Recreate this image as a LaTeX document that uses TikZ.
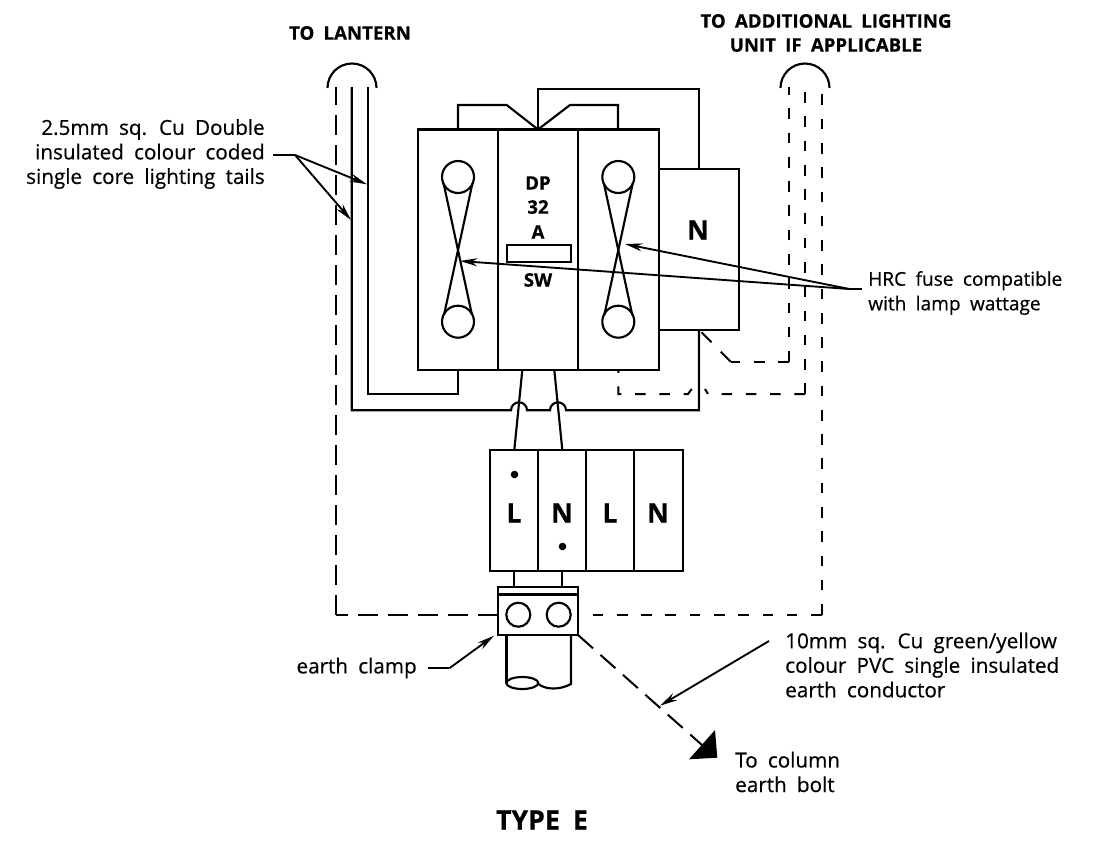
\documentclass[tikz,border=0pt]{standalone}
\usepackage{fontspec}
\setmainfont[WordSpace=1.9, RawFeature={embolden=0.5}]{Open Sans}
\usepackage{tikz}
\usetikzlibrary{arrows.meta}

\tikzset{
  wire/.style={line width=1.6pt, black},
  tail/.style={line width=1.5pt, black, dash pattern=on 15pt off 7.5pt},
  spare/.style={line width=1.5pt, black, dash pattern=on 8pt off 10.2pt},
  leader/.style={line width=1.4pt, black, -{Stealth[length=13pt, width=6pt]}},
  lbl/.style={font=\fontsize{15.5}{18.4}\selectfont, inner sep=0pt},
  head/.style={font=\fontsize{14}{18}\selectfont\bfseries, inner sep=0pt, align=center},
  big/.style={font=\fontsize{20}{24}\selectfont\bfseries, inner sep=0pt}
}

\begin{document}
\begin{tikzpicture}[x=0.75pt, y=-0.75pt]
\useasboundingbox (0, 0) rectangle (1097, 843);

% lanterns
\draw[wire] (327.5, 88) arc[start angle=180, end angle=360, radius=24.5];
\draw[wire] (780.5, 88) arc[start angle=180, end angle=360, radius=24.5];

% breaker
\draw[wire] (418, 129.5) -- (659, 129.5) -- (659, 370) -- (418, 370) -- cycle;
\draw[wire] (498, 129.5) -- (498, 370);
\draw[wire] (578, 129.5) -- (578, 370);
\draw[wire] (506.7, 245) -- (571, 245) -- (571, 261.7) -- (506.7, 261.7) -- cycle;
\draw[wire] (458, 129.5) -- (458, 105) -- (506.7, 105) -- (538, 129.5);
\draw[wire] (618, 129.5) -- (618, 105) -- (570, 105) -- (538, 129.5);
\draw[wire] (538, 129.5) -- (538, 89.3) -- (699, 89.3) -- (699, 169);

% N block
\draw[wire] (659, 169) -- (739, 169) -- (739, 330) -- (659, 330);

% fuses
\draw[wire] (458, 177) circle[radius=16];
\draw[wire] (458, 321.7) circle[radius=16];
\draw[wire] (443.5, 183) -- (472, 315);
\draw[wire] (472.5, 183) -- (444, 315);
\draw[wire] (618.3, 177) circle[radius=16];
\draw[wire] (618.3, 321.7) circle[radius=16];
\draw[wire] (603.8, 183) -- (632.3, 315);
\draw[wire] (632.8, 183) -- (604.3, 315);

% lighting tails
\draw[wire] (351.7, 87) -- (351.7, 410.3) -- (511, 410.3) arc[start angle=180, end angle=360, radius=8] -- (550, 410.3) arc[start angle=180, end angle=360, radius=8] -- (699, 410.3) -- (699, 330);
\draw[wire] (367.7, 87) -- (367.7, 394) -- (458, 394) -- (458, 370);

% feed to terminals
\draw[wire] (522.3, 370) -- (514.3, 450);
\draw[wire] (554.3, 370) -- (562.3, 450);

% terminals
\draw[wire] (490, 450) -- (682.7, 450) -- (682.7, 570.7) -- (490, 570.7) -- cycle;
\draw[wire] (538.3, 450) -- (538.3, 570.7);
\draw[wire] (586, 450) -- (586, 570.7);
\draw[wire] (634, 450) -- (634, 570.7);
\fill[black] (514.5, 474.5) circle[radius=3.8];
\fill[black] (562.5, 546.5) circle[radius=3.8];
\draw[wire] (514.3, 570.7) -- (514.3, 586.7);
\draw[wire] (562.3, 570.7) -- (562.3, 586.7);

% clamp and column
\draw[wire] (498, 586.7) -- (578, 586.7) -- (578, 635) -- (498, 635) -- cycle;
\draw[wire] (498, 594.5) -- (578, 594.5);
\draw[wire] (518.3, 614.7) circle[radius=12];
\draw[wire] (558.7, 614.7) circle[radius=12];
\draw[wire] (506.5, 635) -- (506.5, 683);
\draw[wire] (571, 635) -- (571, 684) .. controls (560, 690) and (546, 690) .. (538.3, 684);
\draw[wire] (522.3, 683) ellipse[x radius=16, y radius=6];

% earth loop
\draw[tail] (498, 614.7) -- (335.7, 614.7);
\draw[tail] (335.7, 614.7) -- (335.7, 87);
\draw[spare] (821.7, 614.7) -- (578, 614.7);
\draw[spare] (821.7, 614.7) -- (821.7, 87);
\draw[tail] (578, 635) -- (702, 745);
\fill[black] (715, 730) -- (717.3, 757.7) -- (689, 759.3) -- cycle;

% spare tails
\draw[spare] (789, 361.7) -- (789, 87);
\draw[spare] (789, 361.7) -- (730.7, 361.7);
\draw[spare, dash pattern=on 10.5pt off 10pt] (730.7, 361.7) -- (699.3, 330);
\draw[spare] (805, 394) -- (805, 87);
\draw[spare] (805, 394) -- (708, 394) -- (705, 389);
\draw[spare] (691.7, 389) -- (688, 394) -- (618.3, 394) -- (618.3, 370);

% leaders
\coordinate (tailknee) at (295, 155);
\coordinate (tailend) at (273, 155);
\coordinate (tailtipa) at (367, 184.3);
\coordinate (tailtipb) at (351, 220);
\coordinate (fuseknee) at (849.3, 289);
\coordinate (fuseend) at (862, 289);
\coordinate (fusetipa) at (625, 244);
\coordinate (fusetipb) at (460, 261);
\coordinate (clampend) at (428, 668.3);
\coordinate (clampknee) at (449.3, 668.3);
\coordinate (clamptip) at (494, 635.7);
\coordinate (earthend) at (769, 641);
\coordinate (earthtip) at (660, 705.7);

\draw[line width=1.4pt] (tailend) -- (tailknee);
\draw[leader] (tailknee) -- (tailtipa);
\draw[leader] (tailknee) -- (tailtipb);
\draw[line width=1.4pt] (fuseend) -- (fuseknee);
\draw[leader] (fuseknee) -- (fusetipa);
\draw[leader] (fuseknee) -- (fusetipb);
\draw[line width=1.4pt] (clampend) -- (clampknee);
\draw[leader] (clampknee) -- (clamptip);
\draw[leader] (earthend) -- (earthtip);

% text
\draw (350, 33) node[head] (lanternlbl) {TO LANTERN};
\draw (826, 33) node[head] (extralbl) {TO ADDITIONAL LIGHTING\\UNIT IF APPLICABLE};
\draw (265, 154) node[lbl, left, align=right] (taillbl) {2.5mm sq. Cu Double\\insulated colour coded\\single core lighting tails};
\draw (868, 293) node[lbl, right, align=left, font=\fontsize{14.3}{18.4}\selectfont] (fuselbl) {HRC fuse compatible\\with lamp wattage};
\draw (785, 665) node[lbl, right, align=left] (earthlbl) {10mm sq. Cu green/yellow\\colour PVC single insulated\\earth conductor};
\draw (735, 772) node[lbl, right, align=left] (boltlbl) {To column\\earth bolt};
\draw (417, 668) node[lbl, left] (clamplbl) {earth clamp};

\draw (538, 183) node[head] (dplbl) {DP};
\draw (538, 207) node[head] (amplbl) {32};
\draw (538, 232) node[head] (albl) {A};
\draw (538, 280) node[head] (swlbl) {SW};
\draw (698, 230) node[big] (nlbl) {N};
\draw (514, 513) node[big] (tla) {L};
\draw (562, 513) node[big] (tna) {N};
\draw (610, 513) node[big] (tlb) {L};
\draw (658, 513) node[big] (tnb) {N};
\draw (542, 820) node[big] (typelbl) {TYPE E};

\end{tikzpicture}
\end{document}
